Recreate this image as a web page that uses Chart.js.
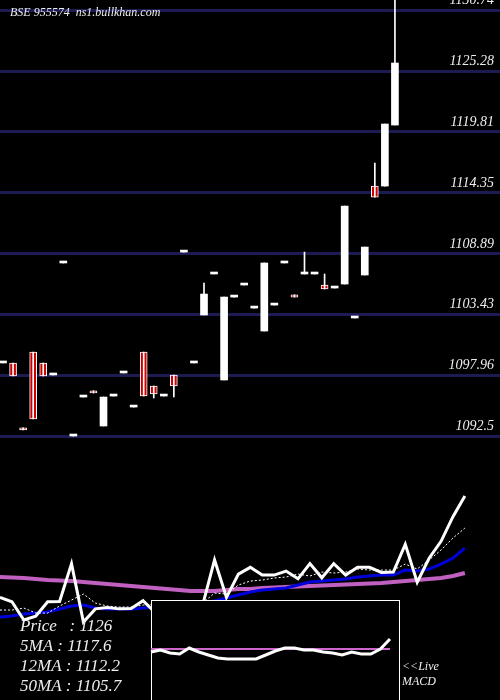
<!DOCTYPE html>
<html><head><meta charset="utf-8">
<script src="https://cdn.jsdelivr.net/npm/chart.js@4/dist/chart.umd.min.js"></script>
<style>html,body{margin:0;padding:0;background:#000;}#w{width:500px;height:700px;}</style>
</head><body><div id="w"><canvas id="c" width="500" height="700"></canvas></div>
<script>
const priceTicks = [1092.5, 1097.96, 1103.43, 1108.89, 1114.35, 1119.81, 1125.28, 1130.74];
const opens  = [1099.06,1099.06,1093.24,1100.04,1099.06,1097.98,1108.04,1092.5,1096.0,1096.56,1093.4,1096.09,1098.16,1095.1,1100.04,1096.99,1096.09,1097.98,1109.02,1099.06,1103.37,1107.05,1097.53,1104.98,1106.06,1103.99,1101.93,1104.26,1108.04,1105.18,1107.05,1107.05,1106.06,1105.79,1106.15,1103.1,1106.96,1114.95,1114.95,1120.43];
const closes = [1099.06,1097.89,1093.04,1094.03,1097.89,1097.98,1108.04,1092.5,1096.0,1096.36,1096.0,1096.09,1098.16,1095.1,1096.09,1096.27,1096.09,1096.99,1109.02,1099.06,1105.25,1107.05,1104.98,1104.98,1106.06,1103.99,1108.04,1104.26,1108.04,1104.98,1107.05,1107.05,1105.7,1105.79,1113.15,1103.1,1109.47,1113.96,1120.52,1126.0];
const highs  = [1099.06,1099.06,1093.24,1100.04,1099.06,1097.98,1108.04,1092.5,1096.0,1096.56,1096.0,1096.09,1098.16,1095.1,1100.04,1096.99,1096.09,1097.98,1109.02,1099.06,1106.24,1107.05,1104.98,1104.98,1106.06,1103.99,1108.04,1104.26,1108.04,1105.18,1109.02,1107.05,1107.05,1105.79,1113.15,1103.1,1109.47,1117.02,1120.52,1131.7];
const lows   = [1099.06,1097.89,1093.04,1094.03,1097.89,1097.98,1108.04,1092.5,1096.0,1096.36,1093.4,1096.09,1098.16,1095.1,1096.09,1095.91,1096.09,1096.0,1109.02,1099.06,1103.37,1107.05,1097.53,1104.98,1106.06,1103.99,1101.93,1104.26,1108.04,1104.98,1107.05,1107.05,1105.7,1105.79,1106.15,1103.1,1106.96,1113.96,1114.95,1120.43];
const ma5  = [1095.69,1095.69,1096.22,1094.89,1094.89,1096.76,1098.35,1099.95,1097.55,1096.76,1096.49,1096.49,1097.02,1097.3,1097.3,1097.3,1097.0,1097.55,1100.21,1099.95,1102.34,1103.4,1103.67,1104.2,1104.47,1105.27,1104.73,1105.8,1105.53,1105.8,1106.6,1106.33,1106.33,1106.33,1107.93,1106.6,1109.0,1111.65,1114.84,1117.5];
const ma12 = [1093.83,1094.10,1094.63,1094.89,1095.16,1095.96,1096.76,1097.02,1096.22,1095.96,1095.96,1095.96,1096.22,1096.49,1096.76,1096.76,1097.02,1097.55,1098.09,1098.88,1099.68,1100.48,1101.01,1101.28,1101.54,1102.34,1103.14,1103.4,1103.67,1103.94,1104.47,1104.73,1105.0,1105.0,1106.33,1106.06,1106.6,1107.93,1109.52,1112.18];
const ma50 = [1104.47,1104.33,1104.2,1103.94,1103.67,1103.54,1103.4,1103.14,1102.87,1102.61,1102.34,1102.07,1101.81,1101.54,1101.28,1101.01,1100.74,1100.74,1100.74,1101.01,1101.28,1101.28,1101.54,1101.68,1101.81,1101.94,1102.07,1102.2,1102.34,1102.47,1102.61,1102.74,1102.87,1103.14,1103.4,1103.67,1103.94,1104.2,1104.73,1105.53];
const macd = [-0.3,-0.1,-0.4,-0.5,0.1,-0.3,-0.6,-0.9,-1.0,-1.0,-1.0,-1.0,-0.6,-0.2,0.1,0.1,-0.1,-0.1,-0.3,-0.4,-0.6,-0.3,-0.5,-0.5,0.0,1.0];
const macdSignal = macd.map(() => 0);
const legendLines = ["Price   : 1126", "5MA : 1117.6", "12MA : 1112.2", "50MA : 1105.7"];

const idx = opens.map((_, i) => i);
const bodies = idx.map(i => ({x: i, y: [opens[i], closes[i]]}));
const wicks = idx.map(i => ({x: i, y: [lows[i], highs[i]]}));
const isRed = i => opens[i] > closes[i];
const lineData = arr => arr.map((v, i) => ({x: i, y: v}));

const deco = {
  id: 'deco',
  beforeDraw(ch) { const c = ch.ctx; c.save(); c.fillStyle = '#000'; c.fillRect(0, 0, ch.width, ch.height); c.restore(); },
  beforeDatasetDraw(ch, args) {
    if (args.index !== 1) return;
    const c = ch.ctx; c.save();
    c.fillStyle = '#000'; c.fillRect(151, 600, 249, 102);
    c.strokeStyle = '#fff'; c.lineWidth = 1; c.strokeRect(151.5, 600.5, 248, 102);
    c.restore();
  },
  afterDraw(ch) {
    const c = ch.ctx, s = ch.scales.y; c.save();
    c.fillStyle = '#eee'; c.font = 'italic 14px "Liberation Serif"'; c.textAlign = 'right'; c.textBaseline = 'alphabetic';
    s.ticks.forEach(t => c.fillText(String(t.value), 494, s.getPixelForValue(t.value) - 6));
    c.textAlign = 'left'; c.font = 'italic 12px "Liberation Serif"';
    c.fillText('BSE 955574  ns1.bullkhan.com', 10, 16);
    c.font = 'italic 17px "Liberation Serif"';
    legendLines.forEach((t, i) => c.fillText(t, 20, 631 + i * 20));
    c.font = 'italic 12px "Liberation Serif"';
    c.fillText('<<Live', 402, 670); c.fillText('MACD', 402, 685);
    c.restore();
  }
};

new Chart(document.getElementById('c'), {
  data: {
    datasets: [
      {type: 'line', data: lineData(macd), xAxisID: 'x3', yAxisID: 'y3', borderColor: '#fff', borderWidth: 3, pointRadius: 0, tension: 0, clip: false},
      {type: 'line', data: lineData(macdSignal), xAxisID: 'x3', yAxisID: 'y3', borderColor: '#cc66cc', borderWidth: 2, pointRadius: 0, clip: false},
      {type: 'line', data: lineData(closes), xAxisID: 'x2', yAxisID: 'y2', borderColor: '#fff', borderWidth: 3, pointRadius: 0, tension: 0, clip: false},
      {type: 'line', data: lineData(ma5), xAxisID: 'x2', yAxisID: 'y2', borderColor: '#fff', borderWidth: 1, borderDash: [2, 2], pointRadius: 0, clip: false},
      {type: 'line', data: lineData(ma12), xAxisID: 'x2', yAxisID: 'y2', borderColor: '#0000dd', borderWidth: 3, pointRadius: 0, clip: false},
      {type: 'line', data: lineData(ma50), xAxisID: 'x2', yAxisID: 'y2', borderColor: '#c060c0', borderWidth: 4, pointRadius: 0, clip: false},
      {type: 'bar', data: wicks, xAxisID: 'x', yAxisID: 'y', backgroundColor: '#fff', barThickness: 1, grouped: false, minBarLength: 0},
      {type: 'bar', data: bodies, xAxisID: 'x', yAxisID: 'y', grouped: false, barThickness: 7, minBarLength: 2,
        backgroundColor: ctx => isRed(ctx.dataIndex) ? '#cc0000' : '#fff',
        borderColor: ctx => isRed(ctx.dataIndex) ? '#fff' : 'rgba(0,0,0,0)',
        borderWidth: ctx => isRed(ctx.dataIndex) ? 1 : 0, borderSkipped: false}
    ]
  },
  options: {
    responsive: false, animation: false, devicePixelRatio: 1,
    layout: {padding: 0},
    plugins: {legend: {display: false}, tooltip: {enabled: false}},
    scales: {
      x: {type: 'linear', min: -0.3, max: 46.47, offset: false, display: false},
      x2: {type: 'linear', min: 0, max: 39.43, offset: false, display: false},
      x3: {type: 'linear', min: -15.79, max: 33.37, offset: false, display: false},
      y: {position: 'right', min: 1068.79, max: 1131.66,
        afterFit: s => { s.width = 30; },
        afterBuildTicks: s => { s.ticks = priceTicks.map(v => ({value: v})); },
        grid: {color: '#1c1c52', lineWidth: 3, tickLength: 30, drawTicks: true},
        border: {display: false},
        ticks: {display: false}},
      y2: {min: 1071.76, max: 1257.96, display: false},
      y3: {min: -5.1, max: 64.9, display: false}
    }
  },
  plugins: [deco]
});
</script></body></html>
